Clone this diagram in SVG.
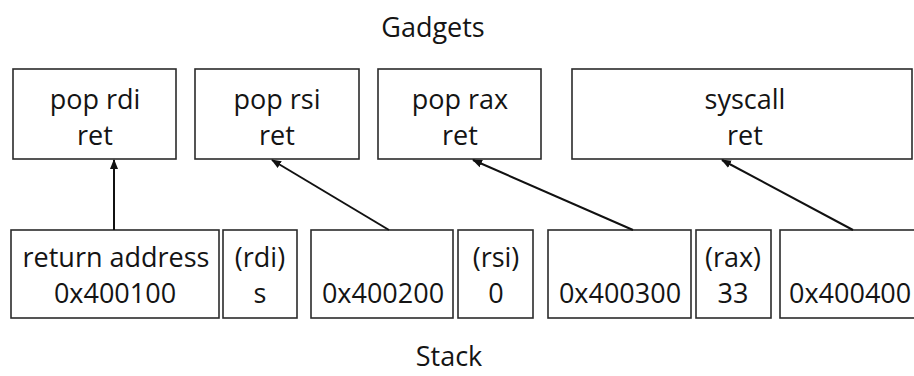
<svg xmlns="http://www.w3.org/2000/svg" width="914" height="376" viewBox="0 0 914 376">
  <style>
    .box { fill: #ffffff; stroke: #2b2b2b; stroke-width: 1.6; }
    .lbl { font-family: "Open Sans", "Noto Sans", "DejaVu Sans", sans-serif; font-size: 27px; fill: #141414; text-anchor: middle; }
    .title { font-family: "Open Sans", "Noto Sans", "DejaVu Sans", sans-serif; font-size: 27px; fill: #141414; text-anchor: middle; }
    .edge { stroke: #111111; stroke-width: 2; fill: none; marker-end: url(#head); }
  </style>
  <defs>
    <marker id="head" viewBox="0 0 10 10" refX="9" refY="5" markerWidth="5" markerHeight="5" orient="auto" markerUnits="strokeWidth">
      <path d="M0,1 L10,5 L0,9 Z" fill="#111111"/>
    </marker>
  </defs>

  <rect width="914" height="376" fill="#ffffff"/>

  <text class="title" x="433" y="37">Gadgets</text>
  <text class="title" x="449" y="366">Stack</text>

  <!-- gadget boxes -->
  <g id="g-pop-rdi">
    <rect class="box" x="13" y="69" width="163" height="90"/>
    <text class="lbl" x="95" y="109">pop rdi</text>
    <text class="lbl" x="95" y="145">ret</text>
  </g>
  <g id="g-pop-rsi">
    <rect class="box" x="195" y="69" width="164" height="90"/>
    <text class="lbl" x="277" y="109">pop rsi</text>
    <text class="lbl" x="277" y="145">ret</text>
  </g>
  <g id="g-pop-rax">
    <rect class="box" x="378" y="69" width="163" height="90"/>
    <text class="lbl" x="460" y="109">pop rax</text>
    <text class="lbl" x="460" y="145">ret</text>
  </g>
  <g id="g-syscall">
    <rect class="box" x="572" y="69" width="340" height="90"/>
    <text class="lbl" x="745" y="109">syscall</text>
    <text class="lbl" x="745" y="145">ret</text>
  </g>

  <!-- stack slots -->
  <g id="s-ret">
    <rect class="box" x="11" y="230" width="208" height="88"/>
    <text class="lbl" x="116" y="267">return address</text>
    <text class="lbl" x="115" y="303">0x400100</text>
  </g>
  <g id="s-rdi">
    <rect class="box" x="223" y="230" width="74" height="88"/>
    <text class="lbl" x="260" y="267">(rdi)</text>
    <text class="lbl" x="260" y="303">s</text>
  </g>
  <g id="s-addr2">
    <rect class="box" x="311" y="230" width="142" height="88"/>
    <text class="lbl" x="383" y="303">0x400200</text>
  </g>
  <g id="s-rsi">
    <rect class="box" x="458" y="230" width="75" height="88"/>
    <text class="lbl" x="496" y="267">(rsi)</text>
    <text class="lbl" x="496" y="303">0</text>
  </g>
  <g id="s-addr3">
    <rect class="box" x="548" y="230" width="143" height="88"/>
    <text class="lbl" x="620" y="303">0x400300</text>
  </g>
  <g id="s-rax">
    <rect class="box" x="696" y="230" width="75" height="88"/>
    <text class="lbl" x="733" y="267">(rax)</text>
    <text class="lbl" x="733" y="303">33</text>
  </g>
  <g id="s-addr4">
    <rect class="box" x="780" y="230" width="150" height="88"/>
    <text class="lbl" x="789" y="303" style="text-anchor:start">0x400400</text>
  </g>

  <!-- connectors -->
  <g id="edges">
    <line class="edge" x1="114" y1="230" x2="114" y2="160"/>
    <line class="edge" x1="389" y1="230" x2="272" y2="160"/>
    <line class="edge" x1="633" y1="230" x2="473" y2="160"/>
    <line class="edge" x1="853" y1="230" x2="722" y2="160"/>
  </g>
</svg>
